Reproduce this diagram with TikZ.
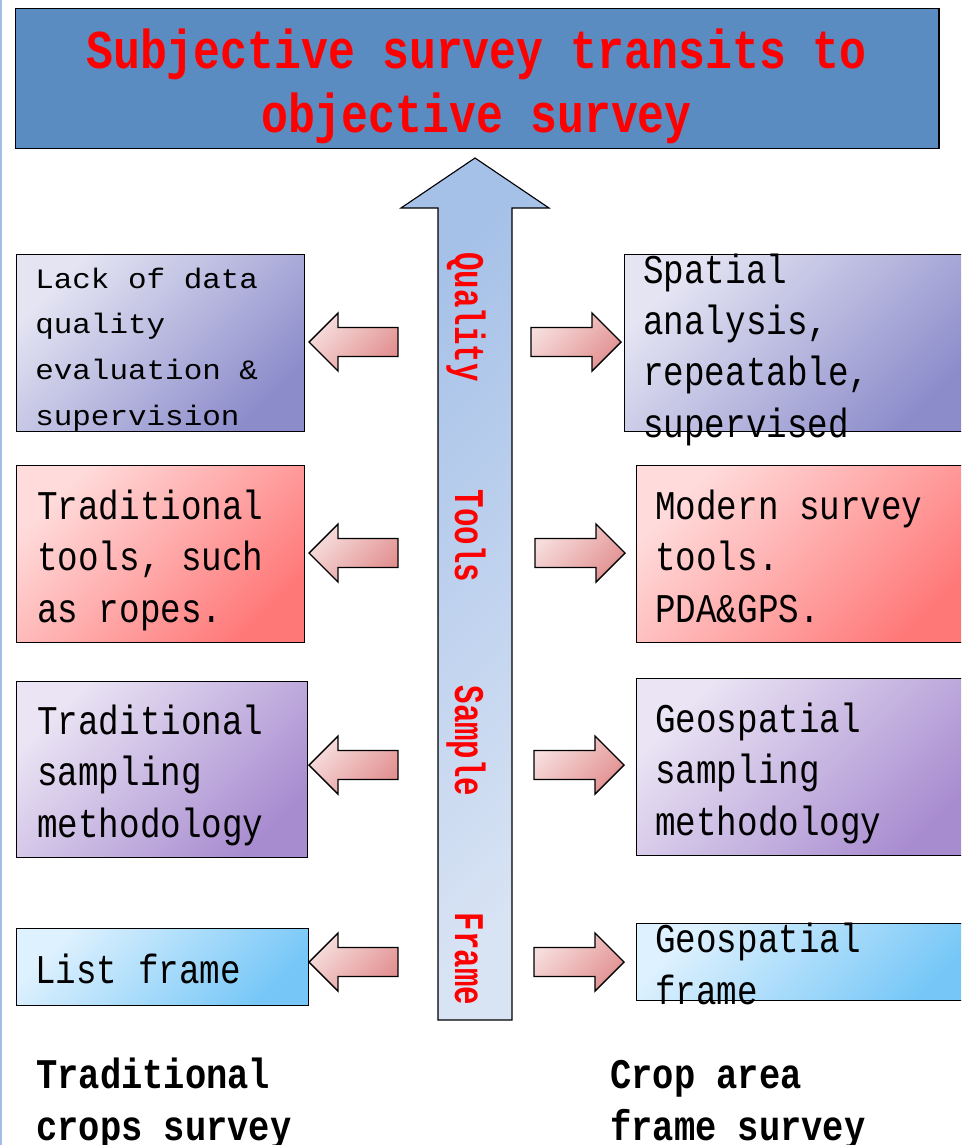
\documentclass[tikz,border=0pt]{standalone}
\usepackage{fontspec}
\usepackage{tikz}
\newfontfamily\bodyfont[FakeStretch=0.84]{Liberation Mono}
\newfontfamily\smallfont[FakeStretch=1.1]{Liberation Mono}
\newfontfamily\titlefont[FakeStretch=0.82]{Liberation Mono}
\newfontfamily\labelfont[FakeStretch=0.73]{Liberation Mono}
\definecolor{TitleBlue}{RGB}{91,140,193}
\definecolor{EdgeBlue}{RGB}{160,190,230}
\definecolor{ShaftA}{RGB}{166,193,232}
\definecolor{ShaftB}{RGB}{216,227,244}
\definecolor{PinkA}{RGB}{247,222,222}
\definecolor{PinkB}{RGB}{226,144,144}
\definecolor{LavA}{RGB}{228,228,243}
\definecolor{LavB}{RGB}{140,140,203}
\definecolor{RoseA}{RGB}{255,219,219}
\definecolor{RoseB}{RGB}{255,120,120}
\definecolor{LilacA}{RGB}{234,228,244}
\definecolor{LilacB}{RGB}{168,140,208}
\definecolor{SkyA}{RGB}{222,241,254}
\definecolor{SkyB}{RGB}{118,199,247}
\tikzset{
  box/.style={draw=black, line width=1pt, rectangle, inner sep=0pt, anchor=north west},
  lavBox/.style={box, left color=LavA, right color=LavB, shading angle=45},
  roseBox/.style={box, left color=RoseA, right color=RoseB, shading angle=45},
  lilacBox/.style={box, left color=LilacA, right color=LilacB, shading angle=45},
  skyBox/.style={box, left color=SkyA, right color=SkyB, shading angle=45},
  pinkArrow/.style={draw=black, line width=1pt, left color=PinkA, right color=PinkB, shading angle=45},
  bigArrow/.style={draw=black, line width=0.8pt, left color=ShaftA, right color=ShaftB, shading angle=45},
  bodytxt/.style={font=\bodyfont\fontsize{29}{36.5}\selectfont, align=left, inner sep=0pt, anchor=base west},
  smalltxt/.style={font=\smallfont\fontsize{20}{32.4}\selectfont, align=left, inner sep=0pt, anchor=base west},
  foottxt/.style={font=\bodyfont\bfseries\fontsize{30}{36.5}\selectfont, align=left, inner sep=0pt, anchor=base west},
  titletxt/.style={text=red, font=\titlefont\bfseries\fontsize{38.9}{45.5}\selectfont, align=center, inner sep=0pt, anchor=base},
  arrowtxt/.style={text=red, font=\labelfont\bfseries\fontsize{30}{36}\selectfont, rotate=-90, inner sep=0pt, anchor=base}
}
\begin{document}
\begin{tikzpicture}[x=0.025cm, y=-0.025cm]
    \useasboundingbox (0,0) rectangle (961,1145);
    \clip (0,0) rectangle (961,1145);
    \draw[EdgeBlue, line width=1.4pt] (1,0) -- (1,1145);

%   title (text nodes sit on the baseline of their last line)
    \node[box, fill=TitleBlue, minimum width=23.075cm, minimum height=3.5cm] (titleBox) at (15,8) {};
    \node[titletxt] (titleTxt) at (476.5,132) {Subjective survey transits to\\objective survey};

%   main arrow
    \shade[bigArrow] (475,158) -- (549,208) -- (512,208) -- (512,1020) -- (438,1020) -- (438,208) -- (401,208) -- cycle;
    \node[arrowtxt] (qualityTxt) at (455,317) {Quality};
    \node[arrowtxt] (toolsTxt) at (455,536) {Tools};
    \node[arrowtxt] (sampleTxt) at (455,741) {Sample};
    \node[arrowtxt] (frameTxt) at (455,959) {Frame};

%   left column
    \node[lavBox, minimum width=7.2cm, minimum height=4.425cm] (boxL1) at (16,254) {};
    \node[roseBox, minimum width=7.2cm, minimum height=4.425cm] (boxL2) at (16,465) {};
    \node[lilacBox, minimum width=7.275cm, minimum height=4.4cm] (boxL3) at (16,681) {};
    \node[skyBox, minimum width=7.3cm, minimum height=1.925cm] (boxL4) at (16,928) {};

%   right column
    \node[lavBox, minimum width=8.775cm, minimum height=4.425cm] (boxR1) at (624,254) {};
    \node[roseBox, minimum width=8.475cm, minimum height=4.425cm] (boxR2) at (636,465) {};
    \node[lilacBox, minimum width=8.475cm, minimum height=4.425cm] (boxR3) at (636,678) {};
    \node[skyBox, minimum width=8.475cm, minimum height=1.925cm] (boxR4) at (636,923) {};

%   side arrows
    \foreach \y/\xr in {342/621, 553/625, 765/624, 962/624} {
        \shade[pinkArrow] (309,\y) -- ++(29,-29) -- ++(0,14.5) -- ++(60,0) -- ++(0,29) -- ++(-60,0) -- ++(0,14.5) -- cycle;
        \shade[pinkArrow] (\xr,\y) -- ++(-29,-29) -- ++(0,14.5) -- ++(-61,0) -- ++(0,29) -- ++(61,0) -- ++(0,14.5) -- cycle;
    }

%   texts
    \node[smalltxt] (txtL1) at (35,425) {Lack of data\\quality\\evaluation \&\\supervision};
    \node[bodytxt] (txtL2) at (37,622) {Traditional\\tools, such\\as ropes.};
    \node[bodytxt] (txtL3) at (37,837) {Traditional\\sampling\\methodology};
    \node[bodytxt] (txtL4) at (35,983) {List frame};
    \node[bodytxt] (txtR1) at (643,437) {Spatial\\analysis,\\repeatable,\\supervised};
    \node[bodytxt] (txtR2) at (655,622) {Modern survey\\tools.\\PDA\&GPS.};
    \node[bodytxt] (txtR3) at (655,835) {Geospatial\\sampling\\methodology};
    \node[bodytxt] (txtR4) at (655,1004) {Geospatial\\frame};

    \node[foottxt] (footL) at (36,1140) {Traditional\\crops survey};
    \node[foottxt] (footR) at (610,1140) {Crop area\\frame survey};
\end{tikzpicture}
\end{document}
